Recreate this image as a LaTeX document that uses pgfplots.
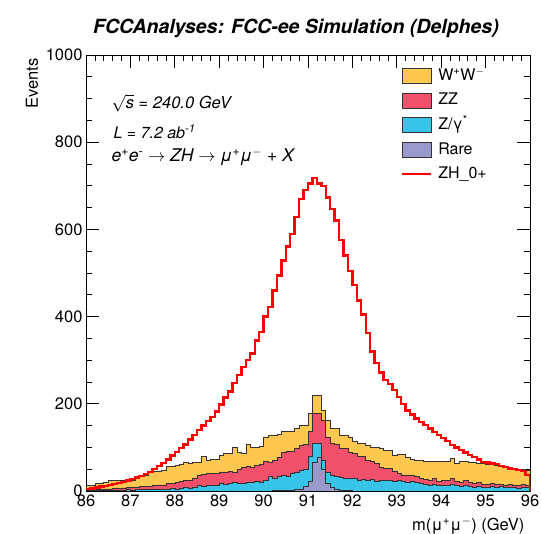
\documentclass[border=0pt]{standalone}
\usepackage{pgfplots}
\pgfplotsset{compat=1.18}
\usepackage{pgfplotstable}
\usepackage{fontspec}
\setmainfont{TeX Gyre Heros}
\definecolor{cww}{RGB}{254,200,80}
\definecolor{czz}{RGB}{240,80,105}
\definecolor{czg}{RGB}{56,196,233}
\definecolor{crare}{RGB}{153,153,204}
\newcommand\tfs{\fontsize{16.5bp}{19bp}\selectfont}
\pgfplotstableread{
x rare zg zz ww zh
86.0 0 1 2 9 5
86.1 0 1 2 11 6
86.2 0 1 3 14 8
86.3 0 2 2 14 10
86.4 0 1 4 15 12
86.5 0 2 3 20 14
86.6 0 2 4 19 16
86.7 0 2 4 19 18
86.8 0 2 5 18 21
86.9 0 3 5 18 24
87.0 0 2 6 17 27
87.1 0 3 6 21 31
87.2 0 3 7 27 35
87.3 0 4 6 27 39
87.4 0 3 8 32 44
87.5 0 4 8 34 50
87.6 0 5 9 32 57
87.7 0 4 10 33 64
87.8 0 5 12 39 72
87.9 0 6 12 38 81
88.0 0 5 15 40 90
88.1 0 7 15 40 99
88.2 0 8 17 41 107
88.3 0 6 18 40 118
88.4 0 9 21 36 128
88.5 0 12 25 29 140
88.6 0 10 28 41 150
88.7 0 12 28 31 160
88.8 0 13 28 32 170
88.9 0 12 28 33 182
89.0 0 18 26 37 198
89.1 0 16 28 42 214
89.2 0 18 27 41 228
89.3 0 19 24 58 248
89.4 0 17 33 38 266
89.5 0 18 36 32 285
89.6 0 21 35 51 300
89.7 0 20 35 46 315
89.8 0 22 36 43 345
89.9 0 21 41 41 365
90.0 0 25 42 57 400
90.1 0 33 33 62 422
90.2 1 29 40 58 460
90.3 1 32 44 53 494
90.4 1 34 53 48 529
90.5 1 32 57 46 561
90.6 2 38 52 44 590
90.7 3 39 56 45 628
90.8 5 43 57 46 670
90.9 10 40 56 45 690
91.0 22 57 57 42 705
91.1 66 43 69 42 718
91.2 78 31 69 42 705
91.3 50 20 92 23 700
91.4 18 26 80 38 673
91.5 8 27 74 34 647
91.6 3 30 75 35 620
91.7 2 29 67 30 575
91.8 1 28 68 31 540
91.9 1 29 58 36 505
92.0 0 28 58 29 472
92.1 0 25 55 29 437
92.2 0 27 52 31 405
92.3 0 24 46 35 362
92.4 0 26 41 34 320
92.5 0 23 41 36 293
92.6 0 25 30 42 272
92.7 0 24 28 42 255
92.8 0 25 26 42 245
92.9 0 22 24 36 231
93.0 0 25 15 44 215
93.1 0 23 14 48 200
93.2 0 21 16 41 185
93.3 0 22 14 36 175
93.4 0 20 13 38 166
93.5 0 18 11 41 158
93.6 0 15 12 42 151
93.7 0 14 11 43 143
93.8 0 15 13 39 136
93.9 0 12 10 46 128
94.0 0 13 11 43 121
94.1 0 14 11 42 114
94.2 0 15 13 48 106
94.3 0 12 10 42 100
94.4 0 11 10 46 94
94.5 0 13 11 43 88
94.6 0 10 10 46 82
94.7 0 9 9 48 78
94.8 0 11 8 45 72
94.9 0 8 8 47 67
95.0 0 9 6 47 65
95.1 0 11 7 43 63
95.2 0 9 6 45 62
95.3 0 10 6 42 58
95.4 0 8 5 43 55
95.5 0 9 6 39 52
95.6 0 8 6 38 50
95.7 0 7 6 37 48
95.8 0 9 6 34 46
95.9 0 8 5 35 37
96.0 0 8 5 35 37
}\data
\pgfplotstablecreatecol[create col/expr={\thisrow{rare}+\thisrow{zg}}]{c1}{\data}
\pgfplotstablecreatecol[create col/expr={\thisrow{c1}+\thisrow{zz}}]{c2}{\data}
\pgfplotstablecreatecol[create col/expr={\thisrow{c2}+\thisrow{ww}}]{c3}{\data}
\begin{document}
\begin{tikzpicture}
\path[use as bounding box] (0bp,0bp) rectangle (541bp,534bp);
\begin{axis}[
  at={(86bp,43bp)}, anchor=south west,
  scale only axis, width=444bp, height=436bp,
  xmin=86, xmax=96, ymin=0, ymax=1000,
  xtick={86,87,...,96}, ytick={0,200,...,1000},
  minor x tick num=4, minor y tick num=3,
  tick align=inside,
  major tick length=13bp, minor tick length=6.5bp,
  axis line style={line width=0.8bp},
  every tick/.style={black, line width=0.7bp},
  ticklabel style={font=\tfs},
  /pgf/number format/assume math mode=true,
  /pgf/number format/1000 sep={},
  legend style={at={(axis description cs:0.703,0.975)}, anchor=north west,
    draw=none, fill=none, font=\fontsize{16bp}{18bp}\selectfont,
    row sep=9bp,
    nodes={inner sep=0pt, text height=12bp, text depth=3bp},
    /tikz/every odd column/.append style={column sep=6bp}},
  legend cell align=left,
]
\addplot[const plot, fill=cww, draw=black!80, line width=0.6bp,
  legend image code/.code={\draw[fill=cww, draw=black!80, line width=0.6bp] (0bp,-7.5bp) rectangle (29bp,7.5bp);}]
  table[x=x, y=c3]{\data} \closedcycle;
\addlegendentry{W\textsuperscript{+}W\textsuperscript{\(-\)}}
\addplot[const plot, fill=czz, draw=black!80, line width=0.6bp,
  legend image code/.code={\draw[fill=czz, draw=black!80, line width=0.6bp] (0bp,-7.5bp) rectangle (29bp,7.5bp);}]
  table[x=x, y=c2]{\data} \closedcycle;
\addlegendentry{ZZ}
\addplot[const plot, fill=czg, draw=black!80, line width=0.6bp,
  legend image code/.code={\draw[fill=czg, draw=black!80, line width=0.6bp] (0bp,-7.5bp) rectangle (29bp,7.5bp);}]
  table[x=x, y=c1]{\data} \closedcycle;
\addlegendentry{Z/γ\textsuperscript{*}}
\addplot[const plot, fill=crare, draw=black!80, line width=0.6bp,
  legend image code/.code={\draw[fill=crare, draw=black!80, line width=0.6bp] (0bp,-7.5bp) rectangle (29bp,7.5bp);}]
  table[x=x, y=rare]{\data} \closedcycle;
\addlegendentry{Rare}
\addplot[const plot, draw=red, line width=2.4bp,
  legend image code/.code={\draw[red, line width=2bp] (0bp,0bp) -- (29bp,0bp);}]
  table[x=x, y=zh]{\data};
\addlegendentry{ZH\_0+}
\addplot[red, line width=2.4bp, forget plot] coordinates {(96,37) (96,0)};
\end{axis}
\node[font=\fontsize{19.5bp}{22bp}\selectfont\bfseries\itshape] at (296bp,506bp) {FCCAnalyses: FCC-ee Simulation (Delphes)};
\node[rotate=90, anchor=east, font=\tfs] at (32bp,479bp) {Events};
\node[anchor=east, font=\tfs] at (528bp,8bp) {m(μ\textsuperscript{+}μ\textsuperscript{\(-\)}) (GeV)};
\node[anchor=west, font=\fontsize{16.5bp}{19bp}\selectfont\itshape] at (108bp,431bp) {$\sqrt{\textit{s}}$ = 240.0 GeV};
\node[anchor=west, font=\fontsize{16bp}{18bp}\selectfont\itshape] at (110bp,402bp) {L = 7.2 ab\textsuperscript{-1}};
\node[anchor=west, font=\fontsize{17.5bp}{20bp}\selectfont\itshape] at (108bp,377bp) {e\textsuperscript{+}e\textsuperscript{-} $\rightarrow$ ZH $\rightarrow$ μ\textsuperscript{+}μ\textsuperscript{\(-\)} + X};
\end{tikzpicture}
\end{document}
